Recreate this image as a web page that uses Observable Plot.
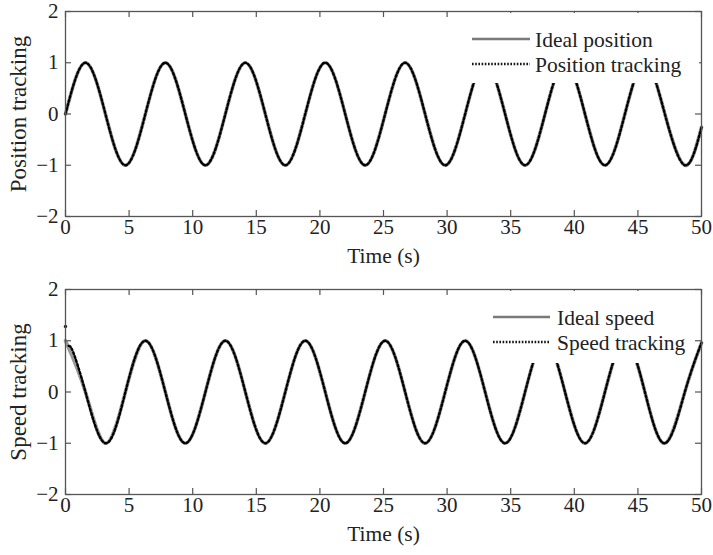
<!DOCTYPE html>
<html>
<head>
<meta charset="utf-8">
<script src="https://cdn.jsdelivr.net/npm/d3@7"></script>
<script src="https://cdn.jsdelivr.net/npm/@observablehq/plot@0.6"></script>
<style>
  html, body { margin: 0; padding: 0; background: #fff; }
  #wrap { position: relative; width: 713px; height: 555px; font-family: "Liberation Serif", "Times New Roman", serif; }
  #wrap svg.lg { position: absolute; }
  #wrap svg.lg text { font-family: "Liberation Serif", "Times New Roman", serif; font-size: 21.5px; fill: #222; }
</style>
</head>
<body>
<div id="wrap"></div>
<script>
// ---- data ----
const xTicks = [0, 5, 10, 15, 20, 25, 30, 35, 40, 45, 50];
const yTicks = [-2, -1, 0, 1, 2];

// Position (top panel): key points (zeros, peaks, troughs)
const posTime = [0, 1.57, 3.14, 4.71, 6.28, 7.85, 9.42, 11.0, 12.57, 14.14, 15.71, 17.28,
  18.85, 20.42, 21.99, 23.56, 25.13, 26.7, 28.27, 29.85, 31.42, 32.99, 34.56, 36.13,
  37.7, 39.27, 40.84, 42.41, 43.98, 45.55, 47.12, 48.69, 50];
const posIdeal = [0, 1, 0, -1, 0, 1, 0, -1, 0, 1, 0, -1, 0, 1, 0, -1,
  0, 1, 0, -1, 0, 1, 0, -1, 0, 1, 0, -1, 0, 1, 0, -1, -0.26];
const posTrack = [0, 1, 0, -1, 0, 1, 0, -1, 0, 1, 0, -1, 0, 1, 0, -1,
  0, 1, 0, -1, 0, 1, 0, -1, 0, 1, 0, -1, 0, 1, 0, -1, -0.26];

// Speed (bottom panel)
const spdTime = [0, 1.57, 3.14, 4.71, 6.28, 7.85, 9.42, 11.0, 12.57, 14.14, 15.71, 17.28,
  18.85, 20.42, 21.99, 23.56, 25.13, 26.7, 28.27, 29.85, 31.42, 32.99, 34.56, 36.13,
  37.7, 39.27, 40.84, 42.41, 43.98, 45.55, 47.12, 48.69, 50];
const spdIdeal = [1, 0, -1, 0, 1, 0, -1, 0, 1, 0, -1, 0, 1, 0, -1, 0,
  1, 0, -1, 0, 1, 0, -1, 0, 1, 0, -1, 0, 1, 0, -1, 0, 0.96];
const spdTrackTime = [0, 0.25, 0.6, 1.57, 3.14, 4.71, 6.28, 7.85, 9.42, 11.0, 12.57, 14.14, 15.71, 17.28,
  18.85, 20.42, 21.99, 23.56, 25.13, 26.7, 28.27, 29.85, 31.42, 32.99, 34.56, 36.13,
  37.7, 39.27, 40.84, 42.41, 43.98, 45.55, 47.12, 48.69, 50];
const spdTrack = [1.28, 0.9, 0.78, 0, -1, 0, 1, 0, -1, 0, 1, 0, -1, 0, 1, 0,
  -1, 0, 1, 0, -1, 0, 1, 0, -1, 0, 1, 0, -1, 0, 1, 0, -1, 0, 0.96];

const posLabel = "Position tracking";
const spdLabel = "Speed tracking";
const xLabel = "Time (s)";

// ---- build ----
const zip = (t, v) => t.map((d, i) => ({t: d, v: v[i]}));
const FRAME_W = 713 - 65 - 12;
const FRAME_H = 205;
const FS = 21;
const fmt = d => (d < 0 ? "\u2212" + Math.abs(d) : String(d));

function panel(ideal, track, ylab, mt, mb, startDot) {
  const marks = [
    Plot.line(ideal, {x: "t", y: "v", curve: "natural", stroke: "#999", strokeWidth: 3.6}),
    Plot.line(track, {x: "t", y: "v", curve: "natural", stroke: "#000", strokeWidth: 2.4, strokeDasharray: "2,2.2"}),
  ];
  if (startDot) marks.push(Plot.dot(startDot, {x: "t", y: "v", r: 1.7, fill: "#111", stroke: null}));
  marks.push(
    Plot.frame({stroke: "#555", strokeWidth: 1.3}),
    Plot.tickX(xTicks, {x: d => d, insetTop: FRAME_H - 6, stroke: "#555", strokeWidth: 1.2}),
    Plot.tickX(xTicks, {x: d => d, insetBottom: FRAME_H - 6, stroke: "#555", strokeWidth: 1.2}),
    Plot.tickY(yTicks, {y: d => d, insetRight: FRAME_W - 6, stroke: "#555", strokeWidth: 1.2}),
    Plot.tickY(yTicks, {y: d => d, insetLeft: FRAME_W - 6, stroke: "#555", strokeWidth: 1.2}),
    Plot.axisX(xTicks, {tickSize: 0, tickPadding: 3, label: null, fontSize: FS, tickFormat: fmt, fill: "#222"}),
    Plot.axisY(yTicks, {tickSize: 0, tickPadding: 7, label: null, fontSize: FS, tickFormat: fmt, fill: "#222"}),
    Plot.text([xLabel], {frameAnchor: "bottom", dy: 46, fontSize: 21.5, fill: "#222"}),
    Plot.text([ylab], {frameAnchor: "left", textAnchor: "middle", dx: -47, rotate: -90, fontSize: 23, fill: "#222"})
  );
  return Plot.plot({
    width: 713, height: 277,
    marginLeft: 65, marginRight: 12, marginTop: mt, marginBottom: mb,
    x: {domain: [0, 50]},
    y: {domain: [-2, 2]},
    style: {fontFamily: '"Liberation Serif", "Times New Roman", serif', fontSize: FS + "px", color: "#222", background: "transparent", overflow: "visible"},
    marks
  });
}

const wrap = document.getElementById("wrap");
const p1 = panel(zip(posTime, posIdeal), zip(posTime, posTrack), posLabel, 11, 61, null);
const spdAll = zip(spdTrackTime, spdTrack);
const p2 = panel(zip(spdTime, spdIdeal), spdAll.slice(1), spdLabel, 12, 60, spdAll.slice(0, 1));
p1.style.display = "block";
p2.style.display = "block";
wrap.appendChild(p1);
wrap.appendChild(p2);

// ---- legends (inside the axes, white boxes) ----
function legend(left, top, w, h, items, lineX1, lineX2, textX, rows) {
  const ns = "http://www.w3.org/2000/svg";
  const svg = document.createElementNS(ns, "svg");
  svg.setAttribute("class", "lg");
  svg.setAttribute("width", w);
  svg.setAttribute("height", h);
  svg.style.left = left + "px";
  svg.style.top = top + "px";
  const rect = document.createElementNS(ns, "rect");
  rect.setAttribute("width", w); rect.setAttribute("height", h); rect.setAttribute("fill", "#fff");
  svg.appendChild(rect);
  items.forEach((it, i) => {
    const ln = document.createElementNS(ns, "line");
    ln.setAttribute("x1", lineX1); ln.setAttribute("x2", lineX2);
    ln.setAttribute("y1", rows[i]); ln.setAttribute("y2", rows[i]);
    ln.setAttribute("stroke", it.color); ln.setAttribute("stroke-width", it.width);
    if (it.dash) ln.setAttribute("stroke-dasharray", it.dash);
    svg.appendChild(ln);
    const tx = document.createElementNS(ns, "text");
    tx.setAttribute("x", textX); tx.setAttribute("y", rows[i] + 1);
    tx.setAttribute("dominant-baseline", "central");
    tx.textContent = it.label;
    svg.appendChild(tx);
  });
  wrap.appendChild(svg);
}
legend(468, 13, 231, 70, [
  {label: "Ideal position", color: "#7a7a7a", width: 2.6},
  {label: "Position tracking", color: "#111", width: 2.6, dash: "1.6,1.6"}
], 4, 62, 67, [26, 51]);
legend(489, 291, 200, 72, [
  {label: "Ideal speed", color: "#7a7a7a", width: 2.6},
  {label: "Speed tracking", color: "#111", width: 2.6, dash: "1.6,1.6"}
], 4, 61, 68, [26, 51]);
</script>
</body>
</html>
